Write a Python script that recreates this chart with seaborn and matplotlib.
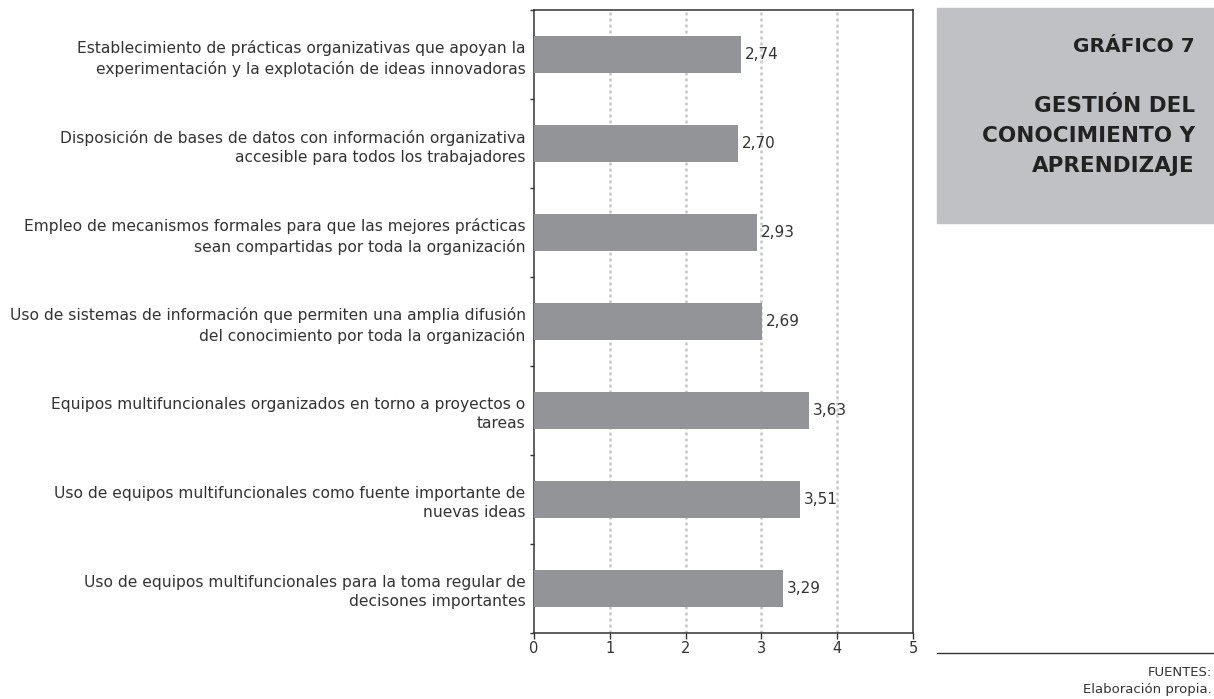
import matplotlib
matplotlib.use('Agg')
import matplotlib.pyplot as plt
import seaborn as sns
import pandas as pd

# datos
categorias = [
    'Establecimiento de prácticas organizativas que apoyan la\nexperimentación y la explotación de ideas innovadoras',
    'Disposición de bases de datos con información organizativa\naccesible para todos los trabajadores',
    'Empleo de mecanismos formales para que las mejores prácticas\nsean compartidas por toda la organización',
    'Uso de sistemas de información que permiten una amplia difusión\ndel conocimiento por toda la organización',
    'Equipos multifuncionales organizados en torno a proyectos o\ntareas',
    'Uso de equipos multifuncionales como fuente importante de\nnuevas ideas',
    'Uso de equipos multifuncionales para la toma regular de\ndecisones importantes',
]
# longitud de barra tal como aparece en el gráfico original
longitudes = [2.73, 2.69, 2.94, 3.01, 3.63, 3.51, 3.28]
etiquetas = ['2,74', '2,70', '2,93', '2,69', '3,63', '3,51', '3,29']
ticks_x = [0, 1, 2, 3, 4, 5]

df = pd.DataFrame({'categoria': categorias, 'valor': longitudes})

sns.set_theme(style='white')
plt.rcParams['font.family'] = ['DejaVu Sans']

fig = plt.figure(figsize=(12.14, 6.99), dpi=100)
ax = fig.add_axes([534 / 1214, 1 - 633 / 699, 379 / 1214, 623 / 699])

sns.barplot(data=df, x='valor', y='categoria', orient='h', color='#939498',
            saturation=1, width=0.42, ax=ax, zorder=3, linewidth=0)

for i, (v, t) in enumerate(zip(longitudes, etiquetas)):
    ax.text(v + 0.05, i, t, va='center', ha='left', fontsize=11, color='#333333')

ax.set_xlim(0, 5)
ax.set_ylim(6.5, -0.5)
ax.set_xticks(ticks_x)
ax.set_xticklabels([str(t) for t in ticks_x], fontsize=10.5, color='#333333')
ax.set_xlabel('')
ax.set_ylabel('')
for x in ticks_x[1:-1]:
    ax.axvline(x, color='#c8c8c8', linestyle=(0, (1.2, 1.2)), linewidth=1.8, zorder=1)

ax.tick_params(axis='y', which='major', length=0, pad=6, labelsize=11.2, labelcolor='#333333')
ax.set_yticks([i + 0.5 for i in range(-1, 7)], minor=True)
ax.tick_params(axis='y', which='minor', length=3, width=1, color='#333333', left=True)
ax.tick_params(axis='x', length=4, width=1, color='#333333', bottom=True, direction='out', pad=2)
for lbl in ax.get_yticklabels():
    lbl.set_horizontalalignment('right')
    lbl.set_multialignment('right')
    lbl.set_linespacing(1.35)
for s in ax.spines.values():
    s.set_color('#333333')
    s.set_linewidth(1.1)

# panel del título
panel = plt.Rectangle((937 / 1214, 1 - 223 / 699), 277 / 1214, 215 / 699,
                      transform=fig.transFigure, color='#c0c1c4', zorder=0)
fig.patches.append(panel)
fig.text(1195 / 1214, 1 - 47 / 699, 'GRÁFICO 7', ha='right', va='center',
         fontsize=14.5, fontweight='bold', color='#222222')
fig.text(1195 / 1214, 1 - 136 / 699, 'GESTIÓN DEL\nCONOCIMIENTO Y\nAPRENDIZAJE',
         ha='right', va='center', fontsize=15.5, fontweight='bold', color='#222222',
         linespacing=1.6)

# fuente
fig.add_artist(plt.Line2D([937 / 1214, 1], [1 - 653 / 699, 1 - 653 / 699],
                          transform=fig.transFigure, color='#333333', linewidth=1))
fig.text(1212 / 1214, 1 - 673 / 699, 'FUENTES:', ha='right', va='center',
         fontsize=9.5, color='#333333')
fig.text(1212 / 1214, 1 - 690 / 699, 'Elaboración propia.', ha='right',
         va='center', fontsize=9.5, color='#333333')

fig.savefig('out.png', dpi=100)
